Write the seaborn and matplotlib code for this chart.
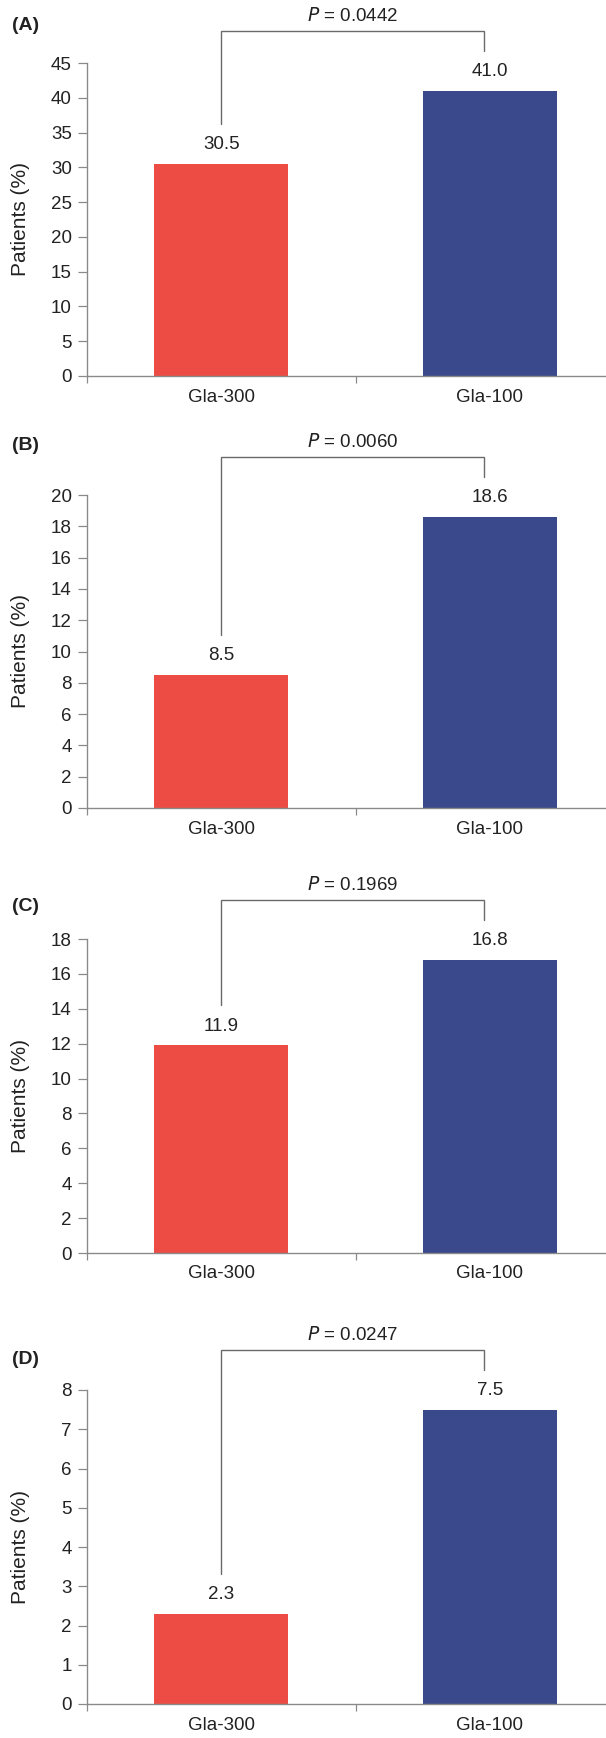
import matplotlib
matplotlib.use("Agg")
import matplotlib.pyplot as plt
import seaborn as sns
import numpy as np

sns.set_theme(style="white")
plt.rcParams['font.family'] = ['Liberation Sans', 'DejaVu Sans']

# ---- data ----
categories = ["Gla-300", "Gla-100"]
panel_labels = ["(A)", "(B)", "(C)", "(D)"]
values_A = [30.5, 41.0]
values_B = [8.5, 18.6]
values_C = [11.9, 16.8]
values_D = [2.3, 7.5]
p_values = ["0.0442", "0.0060", "0.1969", "0.0247"]
y_max = [45, 20, 18, 8]
y_step = [5, 2, 2, 1]
all_values = [values_A, values_B, values_C, values_D]

# ---- style ----
RED = "#EC4C44"
BLUE = "#3A498B"
SPINE = "#8a8a8a"
TXT = "#222222"
BRACKET = "#6a6a6a"
FS = 13.5

W, H = 606, 1738
fig = plt.figure(figsize=(W / 100, H / 100), dpi=100)

# axes pixel layout: (top, bottom) in px
ax_px = [(63, 376), (495, 808), (939, 1253), (1390, 1704)]
panel_label_y = [25, 445, 907, 1360]
left_px, right_px = 87, 624

for i in range(4):
    top, bot = ax_px[i]
    ax = fig.add_axes([left_px / W, 1 - bot / H, (right_px - left_px) / W, (bot - top) / H])
    vals = all_values[i]
    sns.barplot(x=categories, y=vals, hue=categories, palette=[RED, BLUE],
                width=0.5, legend=False, ax=ax, saturation=1, edgecolor="none")
    ax.set_xlim(-0.5, 1.5)
    ax.set_ylim(0, y_max[i])
    ticks = np.arange(0, y_max[i] + 0.001, y_step[i])
    ax.set_yticks(ticks)
    ax.set_yticklabels([f"{int(v)}" for v in ticks])

    for s in ["top", "right"]:
        ax.spines[s].set_visible(False)
    for s in ["left", "bottom"]:
        ax.spines[s].set_color(SPINE)
        ax.spines[s].set_linewidth(1.0)

    ax.tick_params(axis="y", which="major", direction="out", length=6.5, width=0.9,
                   color=SPINE, pad=4.5, labelsize=FS, labelcolor=TXT, left=True)
    ax.tick_params(axis="x", which="major", length=0, pad=9, labelsize=FS,
                   labelcolor=TXT, bottom=True)
    ax.set_xticks([-0.5, 0.5, 1.5], minor=True)
    ax.tick_params(axis="x", which="minor", direction="out", length=5, width=0.9,
                   color=SPINE, bottom=True)
    ax.set_xlabel("")
    ax.set_ylabel("Patients (%)", fontsize=15, color=TXT)
    ax.yaxis.set_label_coords((30 - left_px) / (right_px - left_px), 0.5)
    ax.grid(False)

    # pixel -> data conversion for vertical offsets
    ppu = (bot - top) / y_max[i]

    # value labels
    for j, v in enumerate(vals):
        ax.text(j, v + 19 / ppu, f"{v:.1f}", ha="center", va="center",
                fontsize=FS, color=TXT)

    # significance bracket
    yl = vals[0] + 40 / ppu
    yr = vals[1] + 40 / ppu
    ytop = max(vals) + 60 / ppu
    xl, xr = 0.0, 0.98
    ax.plot([xl, xl, xr, xr], [yl, ytop, ytop, yr], color=BRACKET, lw=1.0,
            clip_on=False, solid_joinstyle="miter")
    ax.text((xl + xr) / 2, ytop + 15 / ppu, "$\\it{P}$ = " + p_values[i], ha="center",
            va="center", fontsize=FS, color=TXT)

    fig.text(12 / W, 1 - panel_label_y[i] / H, panel_labels[i], ha="left", va="center",
             fontsize=14, fontweight="bold", color=TXT)

fig.savefig("out.png", dpi=100)
